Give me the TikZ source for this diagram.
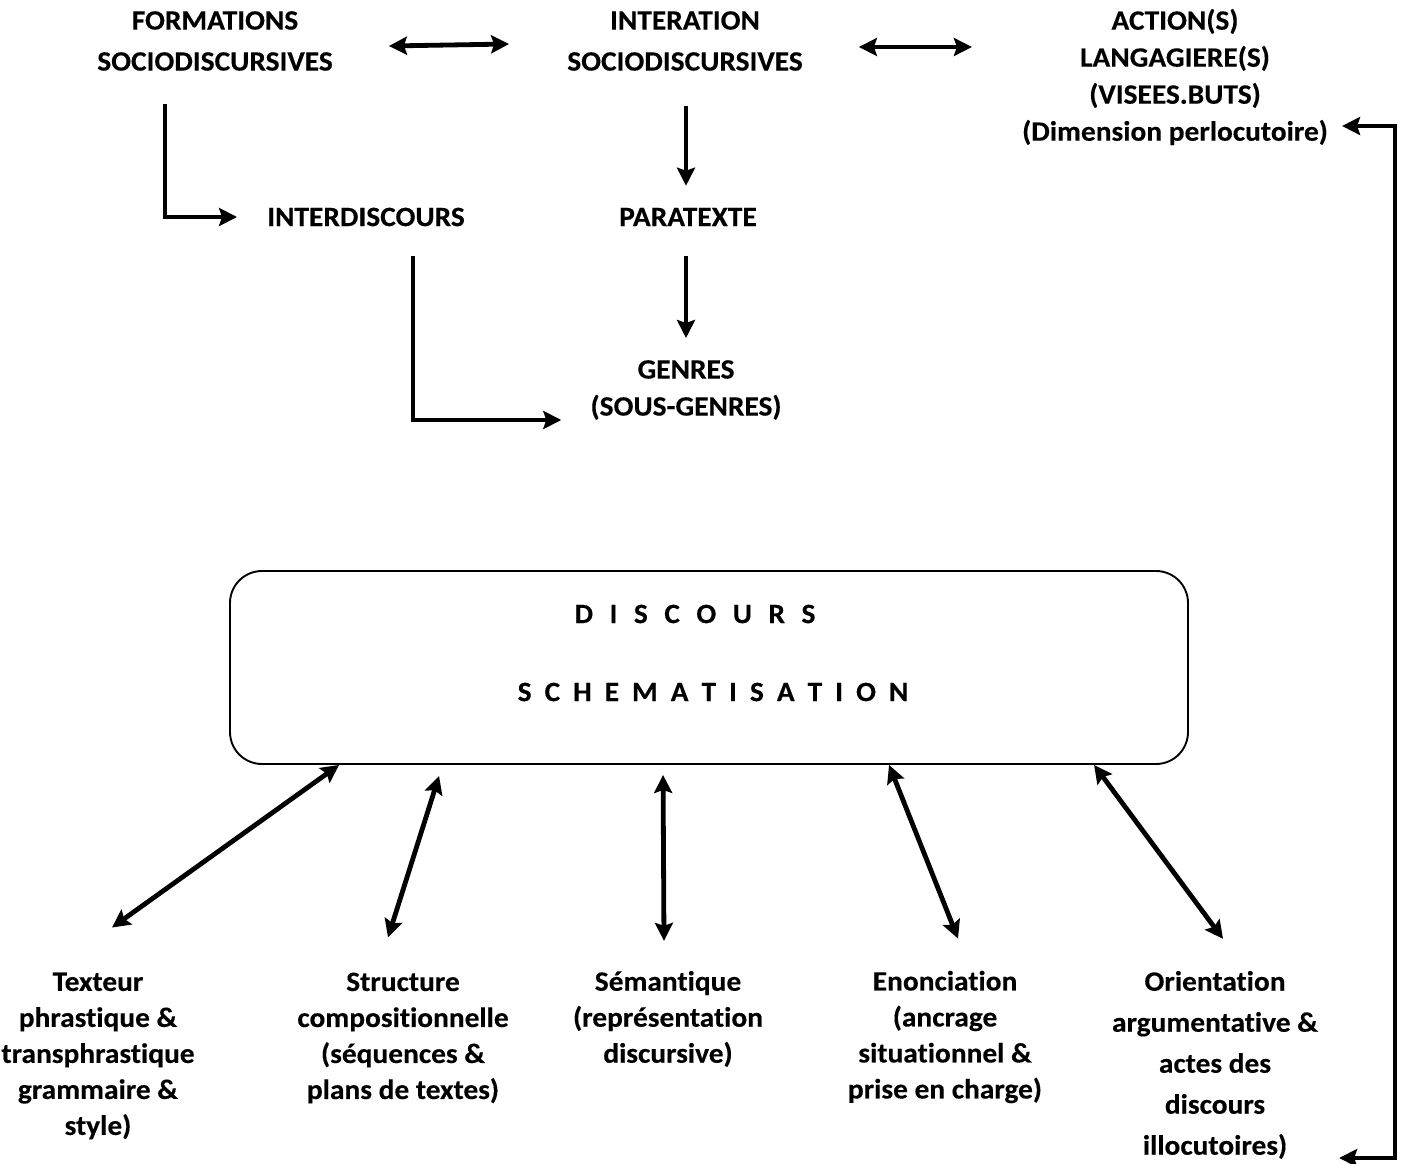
\documentclass[tikz,border=0pt]{standalone}
\usepackage{fontspec}
\setmainfont{Carlito}[FakeStretch=1.05, RawFeature=-liga, BoldFeatures={FakeBold=0.3}]
\usetikzlibrary{arrows.meta,calc}
\begin{document}
\begin{tikzpicture}[x=1pt,y=-1pt,
  lbl/.style={font=\fontsize{28}{37}\selectfont\bfseries, align=center, inner sep=0pt},
  tip/.tip={Stealth[length=18pt,width=18pt,inset=3pt]},
  arr/.style={line width=4.8pt, -tip},
  dbl/.style={line width=4.8pt, tip-tip},
  frame/.style={draw, line width=1.9pt, rounded corners=32pt, minimum width=958pt, minimum height=193pt}]
\useasboundingbox (0,0) rectangle (1406,1164);

% upper layer
\node[lbl, font=\fontsize{28}{41}\selectfont\bfseries] (form) at (215,41) {FORMATIONS\\SOCIODISCURSIVES};
\node[lbl, font=\fontsize{28}{41}\selectfont\bfseries] (inter) at (685,41) {INTERATION\\SOCIODISCURSIVES};
\node[lbl] (act) at (1175,77) {ACTION(S)\\LANGAGIERE(S)\\(VISEES.BUTS)\\(Dimension perlocutoire)};
\node[lbl] (interd) at (366,217) {INTERDISCOURS};
\node[lbl] (para) at (688,217) {PARATEXTE};
\node[lbl] (genres) at (686,390) {GENRES\\(SOUS-GENRES)};

% central frame
\node[frame] (box) at (709,667.5) {};
\node[lbl] (disc) at (695,614) {\spaceskip=16.5pt D I S C O U R S};
\node[lbl] (schem) at (713,692) {\spaceskip=13pt S C H E M A T I S A T I O N};

% lower layer
\node[lbl, font=\fontsize{28}{36}\selectfont\bfseries] (tex) at (98,1056) {Texteur\\phrastique \&\\transphrastique\\grammaire \&\\style)};
\node[lbl, font=\fontsize{28}{36}\selectfont\bfseries] (struct) at (403,1038) {Structure\\compositionnelle\\(séquences \&\\plans de textes)};
\node[lbl, font=\fontsize{28}{36}\selectfont\bfseries] (sem) at (668,1019) {Sémantique\\(représentation\\discursive)};
\node[lbl, font=\fontsize{28}{36}\selectfont\bfseries] (enon) at (945,1037) {Enonciation\\(ancrage\\situationnel \&\\prise en charge)};
\node[lbl, font=\fontsize{28}{41}\selectfont\bfseries] (orient) at (1215,1065) {Orientation\\argumentative \&\\actes des\\discours\\illocutoires)};

% connectors, upper layer
\draw[dbl] ($(form.east)+(56,5)$) -- ($(inter.west)+(-58,3)$);
\draw[dbl] ($(inter.east)+(56,6)$) -- ($(act.west)+(-50,-30)$);
\draw[arr] ($(form.south)+(-50,33)$) |- ($(interd.west)+(-30,0)$);
\draw[arr] ($(inter.south)+(1,35)$) -- ($(para.north)+(-2,-22)$);
\draw[arr] ($(para.south)+(-2,30)$) -- ($(genres.north)+(0,-22)$);
\draw[arr] ($(interd.south)+(47,30)$) |- ($(genres.south west)+(-29,0)$);

% connectors, lower layer
\draw[dbl] ($(box.south west)+(110,0)$) -- ($(tex.north)+(14,-45)$);
\draw[dbl] ($(box.south west)+(210,11)$) -- ($(struct.north)+(-15,-35)$);
\draw[dbl] ($(box.south west)+(434,10)$) -- ($(sem.north)+(-4,-30)$);
\draw[dbl] ($(box.south west)+(660,0)$) -- ($(enon.north)+(13,-32)$);
\draw[dbl] ($(box.south west)+(865,0)$) -- ($(orient.north)+(8,-32)$);

% return loop on the right
\coordinate (loopA) at (1395,126);
\coordinate (loopB) at (1395,1158);
\draw[line width=4.8pt, tip-tip] ($(act.east |- loopA)+(14,0)$) -- (loopA) -- (loopB) -- ($(orient.east |- loopB)+(21,0)$);
\end{tikzpicture}
\end{document}
